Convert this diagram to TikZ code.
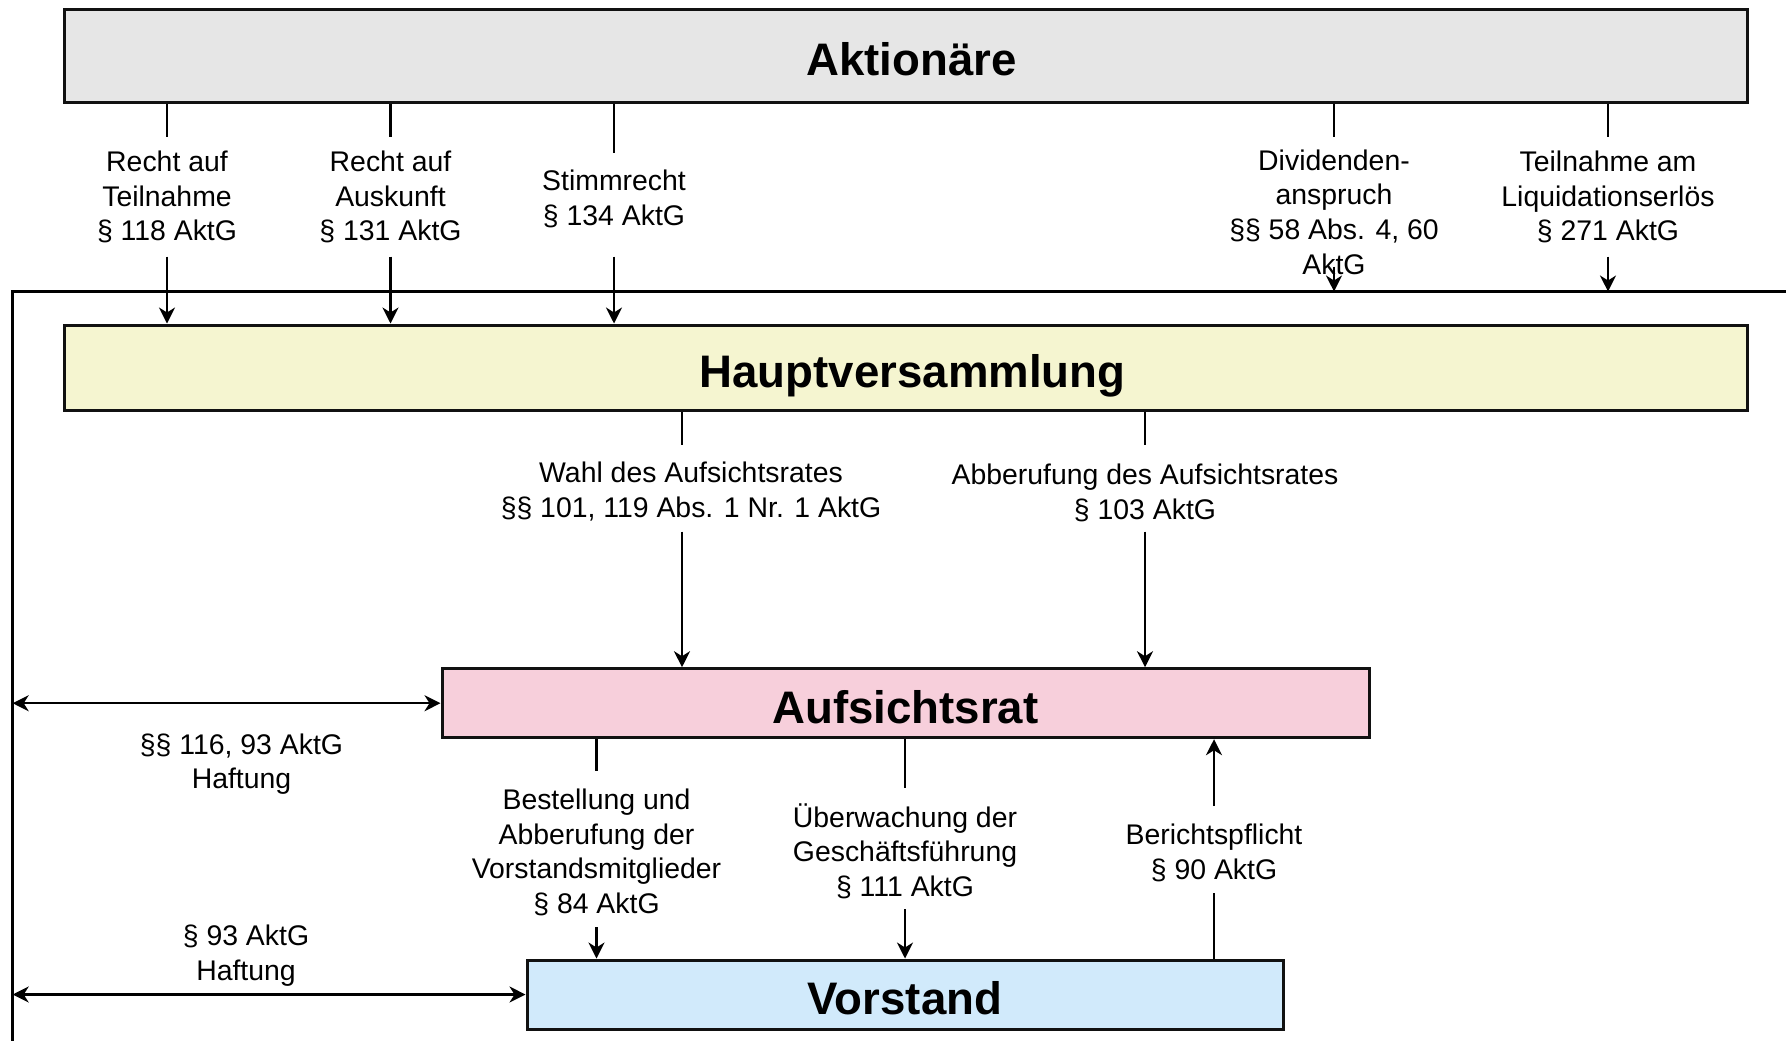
\documentclass[tikz,border=0pt]{standalone}
\usepackage{fontspec}
\setmainfont{Liberation Sans}
\usetikzlibrary{arrows.meta}
\definecolor{aktfill}{RGB}{230,230,230}
\definecolor{hvfill}{RGB}{245,245,208}
\definecolor{arfill}{RGB}{247,207,219}
\definecolor{vsfill}{RGB}{209,234,251}
\definecolor{bordercol}{RGB}{17,17,17}
\newcommand\lblfont{\fontsize{14.2pt}{17.35pt}\selectfont}
\newcommand\ttlfont{\fontsize{22.8pt}{27pt}\selectfont\bfseries}
\begin{document}
\begin{tikzpicture}[x=0.5pt,y=-0.5pt,
  box/.style={draw=bordercol, line width=1.5pt, inner sep=0pt, font=\ttlfont, text height=20pt, text depth=0pt},
  lbl/.style={align=center, font=\lblfont, inner sep=0pt},
  conn/.style={draw=black, line width=1.1pt},
  framel/.style={draw=black, line width=1.5pt},
  >={Stealth[length=8pt,width=8pt,inset=2.5pt]}]
\useasboundingbox (0,0) rectangle (1786,1041);

% boxes
\node[box, fill=aktfill, minimum width=841.5pt, minimum height=46.5pt] (akt) at (905.5,55.5) {\hspace*{6pt}Aktionäre};
\node[box, fill=hvfill, minimum width=841.5pt, minimum height=42.5pt] (hv) at (905.5,367.5) {\hspace*{7pt}Hauptversammlung};
\node[box, fill=arfill, minimum width=463.5pt, minimum height=34.5pt] (ar) at (905.5,703.2) {Aufsichtsrat};
\node[box, fill=vsfill, minimum width=378pt, minimum height=34.5pt] (vs) at (905,994.5) {Vorstand};

% frame
\coordinate (fr) at (12.7,291.5);
\coordinate (frR) at (1786,291.5);
\coordinate (frB) at (12.7,1041);
\draw[framel] (frR) -- (fr) -- (frB);

% labels
\node[lbl] (l1) at (167,197) {Recht auf\\Teilnahme\\§ 118 AktG};
\node[lbl] (l2) at (390.5,197) {Recht auf\\Auskunft\\§ 131 AktG};
\node[lbl] (l3) at (614,199) {Stimmrecht\\§ 134 AktG};
\node[lbl] (l4) at (1334,212) {Dividenden-\\anspruch\\§§ 58 Abs. 4, 60\\AktG};
\node[lbl] (l5) at (1608,197) {Teilnahme am\\Liquidationserlös\\§ 271 AktG};
\node[lbl] (l6) at (691,491.5) {Wahl des Aufsichtsrates\\§§ 101, 119 Abs. 1 Nr. 1 AktG};
\node[lbl] (l7) at (1145,493) {Abberufung des Aufsichtsrates\\§ 103 AktG};
\node[lbl] (l8) at (596.5,852.5) {Bestellung und\\Abberufung der\\Vorstandsmitglieder\\§ 84 AktG};
\node[lbl] (l9) at (905,851) {Überwachung der\\Geschäftsführung\\§ 111 AktG};
\node[lbl] (l10) at (1214,853.2) {Berichtspflicht\\§ 90 AktG};
\node[lbl] (h1) at (241.5,764) {§§ 116, 93 AktG\\Haftung};
\node[lbl] (h2) at (246,955.8) {§ 93 AktG\\Haftung};

% gap coordinates
\coordinate (l1a) at (167,136.7);   \coordinate (l1b) at (167,256.7);
\coordinate (l2a) at (390.5,136.7); \coordinate (l2b) at (390.5,256.7);
\coordinate (l3a) at (614,153);     \coordinate (l3b) at (614,256.7);
\coordinate (l4a) at (1334,136.7);  \coordinate (l4b) at (1334,266.7);
\coordinate (l5a) at (1608,136.7);  \coordinate (l5b) at (1608,256.7);
\coordinate (l6a) at (682,445);     \coordinate (l6b) at (682,531.6);
\coordinate (l7a) at (1145,445);    \coordinate (l7b) at (1145,531.6);
\coordinate (l8a) at (596.5,771);   \coordinate (l8b) at (596.5,927.4);
\coordinate (l9a) at (905,788.4);   \coordinate (l9b) at (905,909);
\coordinate (l10a) at (1214,806);   \coordinate (l10b) at (1214,892.6);

% Aktionäre -> Hauptversammlung
\draw[conn] (akt.south -| l1a) -- (l1a);
\draw[conn,->] (l1b) -- (hv.north -| l1b);
\draw[conn] (akt.south -| l2a) -- (l2a);
\draw[conn,->] (l2b) -- (hv.north -| l2b);
\draw[conn] (akt.south -| l3a) -- (l3a);
\draw[conn,->] (l3b) -- (hv.north -| l3b);
\draw[conn] (akt.south -| l4a) -- (l4a);
\draw[conn,->] (l4b) -- (l4b |- fr);
\draw[conn] (akt.south -| l5a) -- (l5a);
\draw[conn,->] (l5b) -- (l5b |- fr);

% Hauptversammlung -> Aufsichtsrat
\draw[conn] (hv.south -| l6a) -- (l6a);
\draw[conn,->] (l6b) -- (ar.north -| l6b);
\draw[conn] (hv.south -| l7a) -- (l7a);
\draw[conn,->] (l7b) -- (ar.north -| l7b);

% Aufsichtsrat -> Vorstand
\draw[conn] (ar.south -| l8a) -- (l8a);
\draw[conn,->] (l8b) -- (vs.north -| l8b);
\draw[conn] (ar.south -| l9a) -- (l9a);
\draw[conn,->] (l9b) -- (vs.north -| l9b);
\draw[conn] (vs.north -| l10b) -- (l10b);
\draw[conn,->] (l10a) -- (ar.south -| l10a);

% Haftung
\draw[conn,<->] (ar.west -| fr) -- (ar.west);
\draw[conn,<->] (vs.west -| fr) -- (vs.west);
\end{tikzpicture}
\end{document}
